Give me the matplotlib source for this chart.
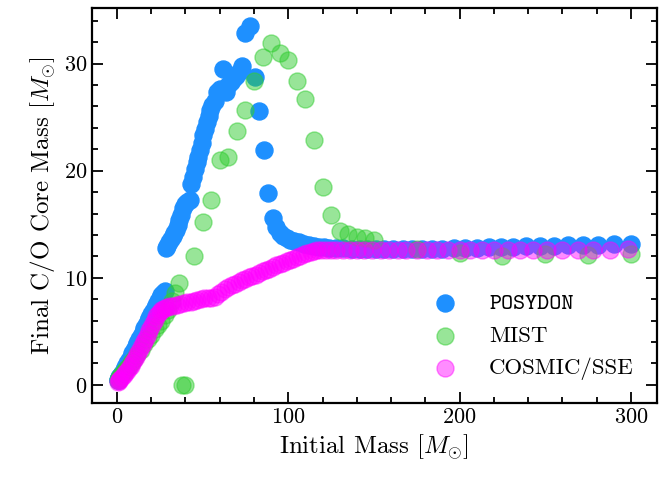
import matplotlib
matplotlib.use("Agg")
import matplotlib.pyplot as plt
from matplotlib.ticker import MultipleLocator

# POSYDON
posydon_m = [0.5, 0.7, 1, 1.5, 2, 2.5, 3, 4, 5, 6, 7, 8, 9, 10, 11, 12, 13, 14, 15, 16,
             17, 18, 19, 20, 21, 22, 23, 24, 25, 26, 27, 28,
             28.5, 29.5, 30.5, 31.5, 32.5, 33.5, 34.5, 35.5, 36.5, 37.5, 38.5, 39.5, 41, 42.5,
             43.5, 44.5, 45.5, 46.5, 47.5, 48.5, 49.5, 50.5, 51.5, 52.5, 53.5, 54.5, 55.5, 57,
             58.5, 60, 62.2, 63.5, 65, 66.5, 68, 69.5, 71, 72.8, 75, 77.7, 80.6, 82.8, 85.6,
             88.3, 91.2, 93, 95, 97, 99, 101, 103.5, 106, 109, 112, 115, 118, 121, 124, 128,
             132, 137, 142, 146, 151, 156, 161, 167, 172, 178, 184, 190, 197, 203, 210, 217,
             224, 231, 239, 247, 255, 263, 272, 281, 290, 300]
posydon_c = [0.45, 0.5, 0.6, 0.7, 0.8, 0.95, 1.1, 1.4, 1.7, 2.0, 2.3, 2.6, 2.95, 3.3, 3.6, 3.95,
             4.3, 4.6, 4.95, 5.3, 5.6, 5.95, 6.25, 6.6, 6.9, 7.2, 7.5, 7.8, 8.1, 8.35, 8.6, 8.8,
             12.8, 13.0, 13.3, 13.6, 13.9, 14.2, 14.5, 14.9, 15.4, 15.9, 16.5, 16.9, 17.1, 17.3,
             18.8, 19.4, 20.2, 20.8, 21.3, 21.9, 22.6, 23.3, 23.9, 24.5, 25.1, 25.7, 26.1, 26.5,
             27.3, 27.6, 29.5, 27.3, 28.0, 28.3, 28.6, 28.8, 29.2, 29.8, 32.9, 33.5, 28.7, 25.6,
             21.9, 17.9, 15.6, 14.7, 14.2, 13.9, 13.7, 13.55, 13.4, 13.3, 13.15, 13.05, 12.97,
             12.9, 12.85, 12.8, 12.78, 12.75, 12.72, 12.7, 12.68, 12.66, 12.65, 12.65, 12.65,
             12.66, 12.68, 12.7, 12.72, 12.75, 12.78, 12.8, 12.83, 12.86, 12.9, 12.93, 12.96,
             13.0, 13.03, 13.07, 13.1, 13.15, 13.2]

# MIST
mist_m = [0.6, 1, 2, 3, 4, 5, 6, 7, 8, 9, 10, 12, 14, 16, 18, 20, 22, 24, 26, 28, 30, 32, 34,
          36, 38, 40, 45, 50, 55, 60, 65, 70, 75, 80, 85, 90, 95, 100, 105, 110, 115, 120,
          125, 130, 135, 140, 145, 150, 175, 200, 225, 250, 275, 300]
mist_c = [0.5, 0.6, 0.8, 1.0, 1.2, 1.4, 1.6, 1.8, 2.0, 2.2, 2.4, 2.9, 3.3, 3.8, 4.3, 4.7, 5.2,
          5.6, 6.0, 6.5, 7.0, 7.8, 8.6, 9.5, 0.0, 0.0, 12.0, 15.2, 17.3, 21.0, 21.3, 23.7, 25.7,
          28.4, 30.6, 31.9, 31.0, 30.3, 28.4, 26.7, 22.9, 18.5, 15.9, 14.4, 14.1, 13.8, 13.7,
          13.5, 12.65, 12.3, 12.0, 12.2, 12.1, 12.2]

# COSMIC/SSE
cosmic_m = [0.5, 1, 1.5, 2, 3, 4, 5, 6, 7, 8, 9, 10, 11, 12, 13, 14, 15, 16, 17, 18, 19, 20,
            21, 22, 23, 24, 25, 26, 27, 28, 29.5, 31, 33, 35, 37, 39, 41, 43, 45, 47, 49, 51,
            53, 55, 57, 59, 61, 63, 65, 67, 69, 71, 73, 75, 77, 79, 81, 83, 85, 87, 89, 91, 93,
            95, 97, 99, 101, 103, 105, 107, 109, 111, 113, 115, 117, 119, 122, 125, 128, 132,
            136, 140, 144, 149, 154, 159, 164, 169, 175, 181, 187, 193, 200, 206, 213, 220,
            228, 235, 243, 251, 260, 269, 278, 288, 298]
cosmic_c = [0.3, 0.35, 0.45, 0.55, 0.7, 0.9, 1.1, 1.3, 1.55, 1.8, 2.05, 2.3, 2.6, 2.9, 3.2, 3.5,
            3.8, 4.1, 4.4, 4.75, 5.1, 5.45, 5.8, 6.1, 6.4, 6.65, 6.85, 7.0, 7.1, 7.2, 7.3, 7.35,
            7.4, 7.5, 7.55, 7.6, 7.7, 7.75, 7.85, 7.95, 8.05, 8.1, 8.15, 8.1, 8.2, 8.45, 8.7,
            8.95, 9.1, 9.3, 9.45, 9.6, 9.75, 9.9, 10.05, 10.2, 10.3, 10.45, 10.6, 10.75, 10.85,
            11.0, 11.15, 11.3, 11.4, 11.55, 11.65, 11.8, 11.95, 12.05, 12.2, 12.3, 12.4, 12.5,
            12.55, 12.6, 12.6, 12.6, 12.6, 12.6, 12.58, 12.58, 12.57, 12.56, 12.56, 12.55, 12.55,
            12.55, 12.55, 12.55, 12.55, 12.55, 12.56, 12.56, 12.57, 12.58, 12.58, 12.6, 12.6,
            12.6, 12.62, 12.62, 12.63, 12.64, 12.65]

plt.rcParams['font.family'] = 'serif'
plt.rcParams['font.serif'] = ['cmr10', 'DejaVu Serif']
plt.rcParams['font.monospace'] = ['cmtt10', 'DejaVu Sans Mono']
plt.rcParams['mathtext.fontset'] = 'cm'
plt.rcParams['axes.formatter.use_mathtext'] = True

fig = plt.figure(figsize=(6.62, 4.79), dpi=100)
ax = fig.add_axes([0.139, 0.159, 0.853, 0.824])

ax.scatter(posydon_m, posydon_c, s=150, color='dodgerblue', label='POSYDON')
ax.scatter(mist_m, mist_c, s=150, color='limegreen', alpha=0.5, label='MIST')
ax.scatter(cosmic_m, cosmic_c, s=150, color='magenta', alpha=0.45, label='COSMIC/SSE')

ax.set_xlabel(r'Initial Mass $[M_{\odot}]$', fontsize=18)
ax.set_ylabel(r'Final C/O Core Mass $[M_{\odot}]$', fontsize=18)

ax.xaxis.set_major_locator(MultipleLocator(100))
ax.xaxis.set_minor_locator(MultipleLocator(20))
ax.yaxis.set_major_locator(MultipleLocator(10))
ax.yaxis.set_minor_locator(MultipleLocator(2))
ax.tick_params(which='both', direction='in', top=True, right=True, labelsize=16, width=1.3)
ax.tick_params(which='major', length=8)
ax.tick_params(which='minor', length=4)
for sp in ax.spines.values():
    sp.set_linewidth(1.6)

leg = ax.legend(loc='lower right', frameon=False, fontsize=16.5, handletextpad=0.9,
                labelspacing=0.5, borderaxespad=0.6)
leg.get_texts()[0].set_fontfamily('monospace')

fig.savefig('out.png', dpi=100)
